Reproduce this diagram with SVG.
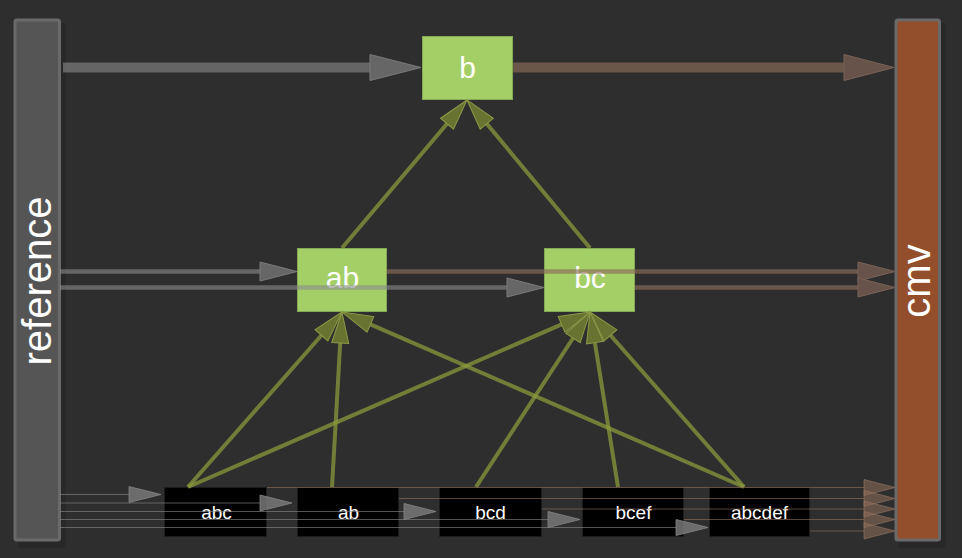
<svg xmlns="http://www.w3.org/2000/svg" width="962" height="558" viewBox="0 0 962 558">
<style>
.bg{fill:#2e2e2e}
.shadow{fill:#000;opacity:.13}
.bar{stroke:#6a6a6a;stroke-width:3}
.bartxt{font-family:"Liberation Sans",Arial,sans-serif;font-size:40px;fill:#fff;text-anchor:middle}
.gnode{fill:#a4cf67;stroke:#86a955;stroke-width:1}
.gtxt{font-family:"Liberation Sans",Arial,sans-serif;font-size:30px;fill:#fff;text-anchor:middle}
.bnode{fill:#000;stroke:#1c1c1c;stroke-width:1}
.btxt{font-family:"Liberation Sans",Arial,sans-serif;font-size:19px;fill:#fff;text-anchor:middle}
.gray{stroke:#8a8a8a;stroke-opacity:.6;fill:none}
.brown{stroke:#8c6b59;stroke-opacity:.65;fill:none}
.green{stroke:#8d9c3b;stroke-opacity:.72;stroke-width:4;fill:none}
.thin{stroke-width:1.2}
</style>
<defs>
<marker id="mGrayBig" markerUnits="userSpaceOnUse" markerWidth="52" markerHeight="28" refX="0" refY="0" orient="auto" overflow="visible"><path d="M0,-13 L51,0 L0,13 z" fill="#666" stroke="#7a7a7a" stroke-width="1"/></marker>
<marker id="mBrownBig" markerUnits="userSpaceOnUse" markerWidth="52" markerHeight="28" refX="0" refY="0" orient="auto" overflow="visible"><path d="M0,-13 L50,0 L0,13 z" fill="#67534a" stroke="#7a6256" stroke-width="1"/></marker>
<marker id="mGrayMid" markerUnits="userSpaceOnUse" markerWidth="38" markerHeight="20" refX="0" refY="0" orient="auto" overflow="visible"><path d="M0,-9.5 L37,0 L0,9.5 z" fill="#666" stroke="#7a7a7a" stroke-width="1"/></marker>
<marker id="mBrownMid" markerUnits="userSpaceOnUse" markerWidth="38" markerHeight="20" refX="0" refY="0" orient="auto" overflow="visible"><path d="M0,-9.5 L37,0 L0,9.5 z" fill="#67534a" stroke="#7a6256" stroke-width="1"/></marker>
<marker id="mGreen" markerUnits="userSpaceOnUse" markerWidth="32" markerHeight="18" refX="0" refY="0" orient="auto" overflow="visible"><path d="M0,-8.5 L31,0 L0,8.5 z" fill="#6c7733" fill-opacity=".95" stroke="#8b9a47" stroke-width="1"/></marker>
<marker id="mGrayThin" markerUnits="userSpaceOnUse" markerWidth="33" markerHeight="18" refX="0" refY="0" orient="auto" overflow="visible"><path d="M0,-8 L32,0 L0,8 z" fill="#777" fill-opacity=".85" stroke="#858585" stroke-width=".8"/></marker>
<marker id="mBrownThin" markerUnits="userSpaceOnUse" markerWidth="33" markerHeight="18" refX="0" refY="0" orient="auto" overflow="visible"><path d="M0,-8 L31,0 L0,8 z" fill="#8a6a58" fill-opacity=".6" stroke="#9a7a66" stroke-width=".8" stroke-opacity=".7"/></marker>
</defs>
<rect class="bg" x="0" y="0" width="962" height="558"/>

<g id="reference">
<rect class="shadow" x="18" y="23" width="48" height="525" rx="3"/>
<rect class="bar" x="15" y="20" width="44.5" height="520" rx="2" fill="#555"/>
<text class="bartxt" transform="translate(51,281) rotate(-90)">reference</text>
</g>
<g id="cmv">
<rect class="shadow" x="898" y="23" width="48" height="525" rx="3"/>
<rect class="bar" x="896" y="20" width="43.5" height="520" rx="2" fill="#934e2c"/>
<text class="bartxt" transform="translate(930,281) rotate(-90)">cmv</text>
</g>

<g id="node-b">
<rect class="gnode" x="422.5" y="36.5" width="90" height="63"/>
<text class="gtxt" x="467.5" y="78">b</text>
</g>
<g id="node-ab">
<rect class="gnode" x="297.5" y="248.5" width="89" height="63"/>
<text class="gtxt" x="342.5" y="288">ab</text>
</g>
<g id="node-bc">
<rect class="gnode" x="544.5" y="248.5" width="90" height="63"/>
<text class="gtxt" x="590" y="288">bc</text>
</g>

<g id="box-abc">
<rect class="bnode" x="164.5" y="487.5" width="102" height="49"/>
<text class="btxt" x="216.5" y="518.5">abc</text>
</g>
<g id="box-ab">
<rect class="bnode" x="297.5" y="487.5" width="101" height="49"/>
<text class="btxt" x="348.5" y="518.5">ab</text>
</g>
<g id="box-bcd">
<rect class="bnode" x="439.5" y="487.5" width="102" height="49"/>
<text class="btxt" x="490.5" y="518.5">bcd</text>
</g>
<g id="box-bcef">
<rect class="bnode" x="582.5" y="487.5" width="101" height="49"/>
<text class="btxt" x="633.5" y="518.5">bcef</text>
</g>
<g id="box-abcdef">
<rect class="bnode" x="709.5" y="487.5" width="100" height="49"/>
<text class="btxt" x="759.5" y="518.5">abcdef</text>
</g>

<g id="connectors">
<!-- reference -> b, b -> cmv -->
<line class="gray" x1="63" y1="67.5" x2="370" y2="67.5" stroke-width="10" stroke="#666" stroke-opacity="1" marker-end="url(#mGrayBig)"/>
<line class="brown" x1="513" y1="67.5" x2="844" y2="67.5" stroke-width="10" stroke="#67534a" stroke-opacity="1" marker-end="url(#mBrownBig)"/>
<!-- reference -> ab, reference -> bc -->
<line class="gray" x1="60" y1="271.5" x2="260" y2="271.5" stroke-width="4.5" marker-end="url(#mGrayMid)"/>
<line class="gray" x1="60" y1="287.5" x2="507" y2="287.5" stroke-width="4.5" marker-end="url(#mGrayMid)"/>
<!-- ab -> cmv, bc -> cmv -->
<line class="brown" x1="387" y1="271.5" x2="858" y2="271.5" stroke-width="4.5" marker-end="url(#mBrownMid)"/>
<line class="brown" x1="635" y1="287.5" x2="858" y2="287.5" stroke-width="4.5" marker-end="url(#mBrownMid)"/>
<!-- ab -> b, bc -> b -->
<line class="green" x1="342" y1="248" x2="447" y2="123.7" marker-end="url(#mGreen)"/>
<line class="green" x1="590" y1="248" x2="486.8" y2="123.8" marker-end="url(#mGreen)"/>
<!-- boxes -> ab -->
<line class="green" x1="188" y1="487" x2="321.5" y2="335.3" marker-end="url(#mGreen)"/>
<line class="green" x1="332" y1="487" x2="340.2" y2="343" marker-end="url(#mGreen)"/>
<line class="green" x1="744" y1="487" x2="370.4" y2="324.4" marker-end="url(#mGreen)"/>
<!-- boxes -> bc -->
<line class="green" x1="188" y1="487" x2="561.6" y2="324.4" marker-end="url(#mGreen)"/>
<line class="green" x1="476" y1="487" x2="573.1" y2="338" marker-end="url(#mGreen)"/>
<line class="green" x1="618" y1="487" x2="594.9" y2="342.6" marker-end="url(#mGreen)"/>
<line class="green" x1="744" y1="487" x2="610.5" y2="335.3" marker-end="url(#mGreen)"/>
<!-- reference -> boxes (thin) -->
<line class="gray thin" x1="60" y1="494.5" x2="129" y2="494.5" marker-end="url(#mGrayThin)"/>
<line class="gray thin" x1="60" y1="503" x2="260" y2="503" marker-end="url(#mGrayThin)"/>
<line class="gray thin" x1="60" y1="511.5" x2="404" y2="511.5" marker-end="url(#mGrayThin)"/>
<line class="gray thin" x1="60" y1="519.5" x2="548" y2="519.5" marker-end="url(#mGrayThin)"/>
<line class="gray thin" x1="60" y1="527.5" x2="676" y2="527.5" marker-end="url(#mGrayThin)"/>
<!-- boxes -> cmv (thin) -->
<line class="brown thin" x1="267" y1="487.5" x2="864" y2="487.5" marker-end="url(#mBrownThin)"/>
<line class="brown thin" x1="399" y1="498.5" x2="864" y2="498.5" marker-end="url(#mBrownThin)"/>
<line class="brown thin" x1="542" y1="509" x2="864" y2="509" marker-end="url(#mBrownThin)"/>
<line class="brown thin" x1="684" y1="519.5" x2="864" y2="519.5" marker-end="url(#mBrownThin)"/>
<line class="brown thin" x1="810" y1="531" x2="864" y2="531" marker-end="url(#mBrownThin)"/>
</g>
</svg>
